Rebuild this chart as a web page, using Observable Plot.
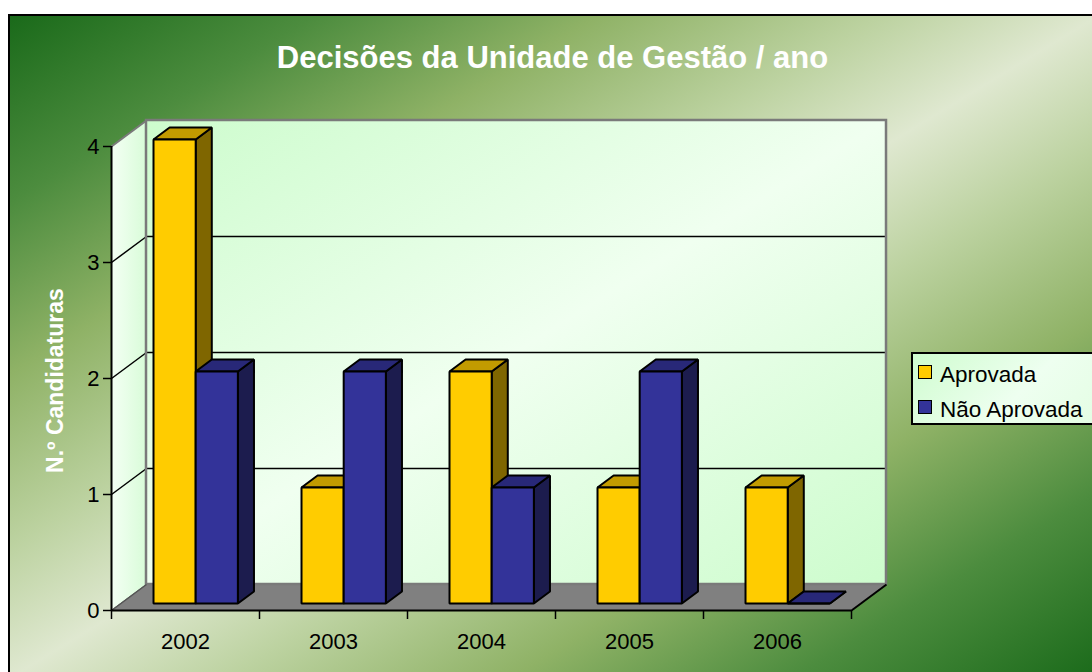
<!DOCTYPE html>
<html><head><meta charset="utf-8">
<script src="https://cdn.jsdelivr.net/npm/d3@7"></script>
<script src="https://cdn.jsdelivr.net/npm/@observablehq/plot@0.6"></script>
<style>
html,body{margin:0;padding:0;background:#fff;overflow:hidden;}
#wrap{position:relative;width:1092px;height:672px;overflow:hidden;font-family:"Liberation Sans",Arial,sans-serif;}
#bg{position:absolute;left:8px;top:14px;width:1092px;height:666px;border:2px solid #000;box-sizing:border-box;
background:linear-gradient(to bottom right,#1a6a1a 0%,#4c8c3e 14%,#8fb266 27%,#bcd2a0 40%,#dfe8d0 50%,#bcd2a0 60%,#8fb266 73%,#4c8c3e 86%,#1a6a1a 100%);}
#chart{position:absolute;left:0;top:0;}
#legend{position:absolute;left:911px;top:352px;width:200px;height:73px;border:2px solid #000;box-sizing:border-box;
background:linear-gradient(135deg,#cffccf 0%,#eefff0 55%,#e2fde2 100%);}
#legend .sw{position:absolute;left:5px;width:14px;height:14px;border:1.5px solid #000;box-sizing:border-box;}
#legend .lb{position:absolute;left:27px;font-size:22.5px;line-height:22px;color:#000;white-space:nowrap;}
</style>
</head><body>
<div id="wrap"><div id="bg"></div><div id="chart"></div><div id="legend"></div></div>
<script>
const years = ["2002", "2003", "2004", "2005", "2006"];
const series = ["Aprovada", "Não Aprovada"];
const aprovada = [4, 1, 2, 1, 1];
const naoAprovada = [2, 2, 1, 2, 0];
const yTicks = [0, 1, 2, 3, 4];
const titleText = "Decisões da Unidade de Gestão / ano";
const yLabelText = "N.º Candidaturas";

const frontColors = ["#ffcc00", "#333399"];
const topColors = ["#c29b00", "#282878"];
const sideColors = ["#7f6600", "#1c1c4e"];

// layout (pixels)
const W = 1092, H = 672, mL = 111, mR = 241, mT = 146, mB = 62;
const yMax = 4;
const pxX = (W - mL - mR) / years.length;
const pxY = (H - mT - mB) / yMax;
const DX = 35 / pxX, DY = 26 / pxY;       // full depth of the 3D box, in data units
const f1 = 0.27, f2 = 0.73;               // bar depth slice
const barOff = 0.22, barW = 0.285;
const nCat = years.length;

const P = (x, y, f) => ({x: x + f * DX, y: y + f * DY});

// bar faces
const faces = [];
[aprovada, naoAprovada].forEach((vals, s) => {
  vals.forEach((v, i) => {
    const x0 = i + barOff + s * barW, x1 = x0 + barW;
    const id = s + "-" + i;
    const add = (pts, k, fill) => pts.forEach(p => faces.push({...p, id: id + k, fill}));
    add([P(x1, 0, f1), P(x1, v, f1), P(x1, v, f2), P(x1, 0, f2)], "s", sideColors[s]);
    add([P(x0, v, f1), P(x1, v, f1), P(x1, v, f2), P(x0, v, f2)], "t", topColors[s]);
    add([P(x0, 0, f1), P(x1, 0, f1), P(x1, v, f1), P(x0, v, f1)], "f", frontColors[s]);
  });
});

const sideWall = [P(0, 0, 0), P(0, yMax, 0), P(0, yMax, 1), P(0, 0, 1)];
const floor = [P(0, 0, 0), P(nCat, 0, 0), P(nCat, 0, 1), P(0, 0, 1)];
const backWall = [{x1: DX, x2: nCat + DX, y1: DY, y2: yMax + DY}];
const gridVals = yTicks.filter(d => d > 0 && d < yMax);

const chart = Plot.plot({
  width: W, height: H,
  marginLeft: mL, marginRight: mR, marginTop: mT, marginBottom: mB,
  x: {domain: [0, nCat]},
  y: {domain: [0, yMax]},
  color: {type: "identity"},
  style: {background: "transparent", overflow: "visible", fontFamily: "'Liberation Sans', Arial, sans-serif", color: "#000"},
  marks: [
    Plot.rect(backWall, {x1: "x1", x2: "x2", y1: "y1", y2: "y2", fill: "url(#wallGrad)"}),
    Plot.line(sideWall, {x: "x", y: "y", curve: "linear-closed", fill: "url(#sideGrad)", stroke: "none"}),
    Plot.line(floor, {x: "x", y: "y", curve: "linear-closed", fill: "#808080", stroke: "#707070", strokeWidth: 1}),
    Plot.ruleY(gridVals, {y: d => d + DY, x1: () => DX, x2: () => nCat + DX, stroke: "#000", strokeWidth: 1.5}),
    Plot.link(gridVals, {x1: () => 0, y1: d => d, x2: () => DX, y2: d => d + DY, stroke: "#000", strokeWidth: 1.5}),
    Plot.rect(backWall, {x1: "x1", x2: "x2", y1: "y1", y2: "y2", fill: "none", stroke: "#7a7a7a", strokeWidth: 2.5}),
    Plot.link([yMax], {x1: () => 0, y1: d => d, x2: () => DX, y2: d => d + DY, stroke: "#7a7a7a", strokeWidth: 2}),
    Plot.link([0], {x1: () => 0, y1: d => d, x2: () => DX, y2: d => d + DY, stroke: "#555", strokeWidth: 1.5}),
    Plot.link([nCat], {x1: d => d, y1: () => 0, x2: d => d + DX, y2: () => DY, stroke: "#000", strokeWidth: 2}),
    Plot.ruleY([0], {x1: () => 0, x2: () => nCat, stroke: "#000", strokeWidth: 2}),
    Plot.ruleX([0], {y1: () => 0, y2: () => yMax, stroke: "#000", strokeWidth: 2}),
    Plot.line(faces, {x: "x", y: "y", z: "id", fill: "fill", stroke: "#000", strokeWidth: 2, curve: "linear-closed", strokeLinejoin: "miter"}),
    Plot.axisY({ticks: yTicks, tickSize: 8, tickPadding: 4, fontSize: 22, strokeWidth: 1.5, label: null, tickFormat: d => String(d)}),
    Plot.axisX({ticks: d3.range(nCat + 1), tickSize: 9, strokeWidth: 1.5, tickFormat: () => "", label: null}),
    Plot.axisX({ticks: years.map((_, i) => i + 0.5), tickSize: 0, tickPadding: 23, fontSize: 22, label: null, tickFormat: d => years[Math.floor(d)]}),
    Plot.text([yLabelText], {text: d => d, frameAnchor: "left", dx: -56, dy: 2, rotate: -90, textAnchor: "middle", lineAnchor: "middle", fill: "#fff", fontWeight: "bold", fontSize: 23}),
    Plot.text([titleText], {text: d => d, frameAnchor: "top-left", dx: 441, dy: -79, textAnchor: "middle", lineAnchor: "bottom", fill: "#fff", fontWeight: "bold", fontSize: 31})
  ]
});

// gradients for the walls
const ns = "http://www.w3.org/2000/svg";
const defs = document.createElementNS(ns, "defs");
defs.innerHTML = `
<linearGradient id="wallGrad" x1="0" y1="0" x2="1" y2="1">
  <stop offset="0" stop-color="#cdfccd"/><stop offset="0.5" stop-color="#f0fff0"/><stop offset="1" stop-color="#cdfccd"/>
</linearGradient>
<linearGradient id="sideGrad" x1="0" y1="0" x2="1" y2="0">
  <stop offset="0" stop-color="#f4fff4"/><stop offset="1" stop-color="#d8fcd8"/>
</linearGradient>`;
chart.insertBefore(defs, chart.firstChild);
document.getElementById("chart").appendChild(chart);

// legend
const legend = document.getElementById("legend");
series.forEach((name, s) => {
  const sw = document.createElement("div");
  sw.className = "sw";
  sw.style.top = (11 + s * 35) + "px";
  sw.style.background = frontColors[s];
  legend.appendChild(sw);
  const lb = document.createElement("div");
  lb.className = "lb";
  lb.style.top = (10 + s * 35) + "px";
  lb.textContent = name;
  legend.appendChild(lb);
});
</script>
</body></html>
